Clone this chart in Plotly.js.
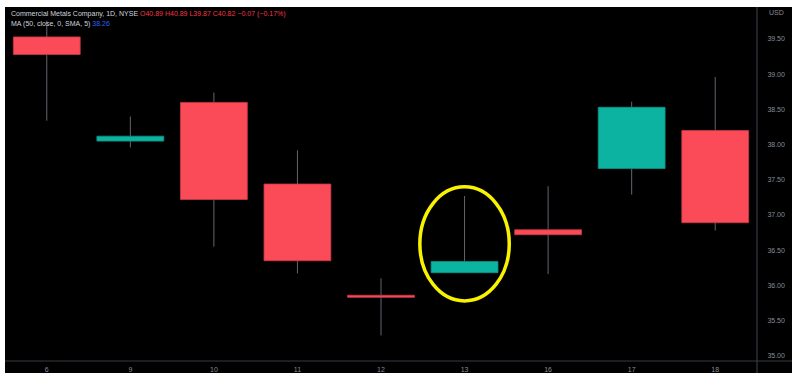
<!DOCTYPE html>
<html>
<head>
<meta charset="utf-8">
<script src="https://cdn.plot.ly/plotly-3.0.1.min.js"></script>
<style>
  html, body { margin: 0; padding: 0; background: #ffffff; width: 792px; height: 382px; overflow: hidden; }
  #chart { position: absolute; left: 5px; top: 7px; width: 787px; height: 366px; }
</style>
</head>
<body>
<div id="chart"></div>
<script>
// Category (day) labels
const days = ['6', '9', '10', '11', '12', '13', '16', '17', '18'];
// OHLC values
const openVals  = [39.53, 38.05, 38.60, 37.44, 35.86, 36.18, 36.79, 37.66, 38.20];
const highVals  = [39.76, 38.40, 38.74, 37.92, 36.10, 37.27, 37.41, 38.61, 38.96];
const lowVals   = [38.34, 37.96, 36.55, 36.17, 35.29, 36.18, 36.16, 37.29, 36.78];
const closeVals = [39.28, 38.12, 37.22, 36.35, 35.83, 36.34, 36.72, 38.53, 36.89];
// Y-axis ticks
const yTicks = [35.0, 35.5, 36.0, 36.5, 37.0, 37.5, 38.0, 38.5, 39.0, 39.5];
const highlightDay = '13';

const upColor = '#0cb3a1', downColor = '#fb4a58';
const upLine = '#0a9384', downLine = '#c93a46';
const wickColor = '#62656f';
const axisColor = '#363a45';
const labelColor = '#8a8d96';

// wicks: upper (high -> body top) and lower (body bottom -> low) segments
const wx = [], wy = [];
days.forEach((d, i) => {
  const top = Math.max(openVals[i], closeVals[i]);
  const bot = Math.min(openVals[i], closeVals[i]);
  wx.push(d, d, null, d, d, null);
  wy.push(highVals[i], top, null, bot, lowVals[i], null);
});
const wicks = {
  type: 'scatter', mode: 'lines', x: wx, y: wy,
  line: { color: wickColor, width: 1 }, hoverinfo: 'skip', showlegend: false, connectgaps: false
};
// bodies
const isUp = days.map((d, i) => closeVals[i] >= openVals[i]);
const bodies = {
  type: 'bar', x: days,
  base: days.map((d, i) => Math.min(openVals[i], closeVals[i])),
  y: days.map((d, i) => Math.abs(closeVals[i] - openVals[i])),
  width: 0.8,
  marker: {
    color: isUp.map(u => u ? upColor : downColor),
    line: { color: isUp.map(u => u ? upLine : downLine), width: 0.8 }
  },
  hoverinfo: 'skip', showlegend: false
};

const hi = days.indexOf(highlightDay);
const font = { family: 'Liberation Sans, Arial, sans-serif', size: 7, color: labelColor };
const headFont = { family: 'Liberation Sans, Arial, sans-serif', size: 7, color: '#d1d4dc' };

const layout = {
  width: 787, height: 366,
  margin: { l: 0, r: 35, t: 0, b: 12, pad: 0 },
  paper_bgcolor: '#000000', plot_bgcolor: '#000000',
  showlegend: false, bargap: 0.2,
  font: font,
  xaxis: {
    type: 'category', categoryorder: 'array', categoryarray: days,
    range: [-0.5, days.length - 0.5],
    showgrid: false, zeroline: false, showline: false,
    ticks: 'outside', ticklen: 2, tickcolor: 'rgba(0,0,0,0)',
    tickfont: font, fixedrange: true
  },
  yaxis: {
    side: 'right', range: [34.926, 39.955],
    tickvals: yTicks, ticktext: yTicks.map(v => v.toFixed(2)),
    showgrid: false, zeroline: false, showline: false,
    ticks: 'outside', ticklen: 8, tickcolor: 'rgba(0,0,0,0)',
    tickfont: font, fixedrange: true
  },
  shapes: [
    { type: 'line', xref: 'paper', yref: 'paper', x0: 1, x1: 1, y0: -12 / 354, y1: 1,
      line: { color: axisColor, width: 1.2 } },
    { type: 'line', xref: 'paper', yref: 'paper', x0: 0, x1: 787 / 752, y0: 0, y1: 0,
      line: { color: axisColor, width: 1.2 } },
    { type: 'circle', xref: 'x', yref: 'y',
      x0: hi - 0.535, x1: hi + 0.535, y0: 35.78, y1: 37.40,
      line: { color: '#f8f200', width: 3.5 } }
  ],
  annotations: [
    { xref: 'paper', yref: 'paper', x: 1 + 10 / 752, y: 1 - 6 / 354, xanchor: 'left', yanchor: 'middle',
      text: 'USD', showarrow: false, font: font },
    { xref: 'paper', yref: 'paper', x: 4 / 752, y: 1 - 7 / 354, xanchor: 'left', yanchor: 'middle',
      showarrow: false, font: headFont,
      text: 'Commercial Metals Company, 1D, NYSE <span style="color:#f23645">O40.89 H40.89 L39.87 C40.82 −0.07 (−0.17%)</span>' },
    { xref: 'paper', yref: 'paper', x: 4 / 752, y: 1 - 17 / 354, xanchor: 'left', yanchor: 'middle',
      showarrow: false, font: headFont,
      text: 'MA (50, close, 0, SMA, 5) <span style="color:#2962ff">38.26</span>' }
  ]
};

Plotly.newPlot('chart', [wicks, bodies], layout, { staticPlot: true, displayModeBar: false });
</script>
</body>
</html>
